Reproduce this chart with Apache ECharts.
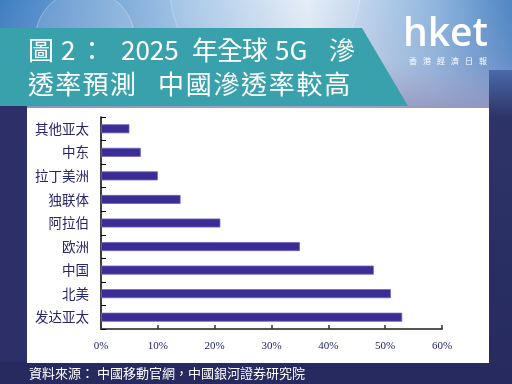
<!DOCTYPE html>
<html><head><meta charset="utf-8">
<script src="https://cdn.jsdelivr.net/npm/echarts@6/dist/echarts.min.js"></script>
<style>html,body{margin:0;padding:0;background:#262a5e}#c{width:512px;height:384px}</style>
</head><body><div id="c"></div>
<script>
var categories = ['其他亚太','中东','拉丁美洲','独联体','阿拉伯','欧洲','中国','北美','发达亚太'];
var penetration = [5, 7, 10, 14, 21, 35, 48, 51, 53];
var xTicks = [0, 10, 20, 30, 40, 50, 60];
var titleLine1 = ['圖', '2', '：', '2025', '年', '全', '球', '5G', '滲'];
var titleLine2 = ['透','率','預','測','中','國','滲','透','率','較','高'];
var logoSub = ['香','港','經','濟','日','報'];
var sourceText = '資料來源： 中國移動官網，中國銀河證券研究院';

var line1X = [28, 61, 79, 121, 192, 217, 242, 275, 329];
var line2X = [28, 55.3, 82.6, 110, 158, 185.7, 213.4, 241, 268.8, 296.5, 324.2];
var titleFont = '26px "Noto Sans CJK TC"';
var graphics = [
    {type:'rect', z:-10, shape:{x:0,y:0,width:512,height:110},
     style:{fill:new echarts.graphic.LinearGradient(0,0,1,0,[
       {offset:0,color:'#3f7fc2'},{offset:0.35,color:'#9fc3e6'},{offset:0.6,color:'#e4edf7'},{offset:0.85,color:'#8fb6de'},{offset:1,color:'#4f86c4'}])}},
    {type:'rect', z:-9, shape:{x:0,y:0,width:512,height:110},
     style:{fill:new echarts.graphic.LinearGradient(0,0,0,1,[
       {offset:0,color:'rgba(160,160,200,0)'},{offset:0.55,color:'rgba(170,170,205,0.2)'},{offset:1,color:'rgba(150,150,190,0.9)'}])}},
    {type:'circle', z:-8, shape:{cx:85,cy:40,r:50}, style:{fill:'rgba(255,255,255,0.12)', stroke:'rgba(255,255,255,0.3)', lineWidth:1}},
    {type:'circle', z:-8, shape:{cx:265,cy:-10,r:95}, style:{fill:'rgba(255,255,255,0.08)', stroke:'rgba(255,255,255,0.25)', lineWidth:1}},
    {type:'rect', z:-8, shape:{x:489,y:70,width:23,height:314},
     style:{fill:new echarts.graphic.LinearGradient(0,0,0,1,[{offset:0,color:'#4a6aa8'},{offset:0.15,color:'#2e3468'},{offset:1,color:'#262a5e'}])}},
    {type:'rect', z:-8, shape:{x:0,y:106,width:27,height:278}, style:{fill:'#2c2f68'}},
    {type:'rect', z:-8, shape:{x:0,y:362,width:512,height:22}, style:{fill:'#262a5e'}},
    {type:'rect', z:-7, shape:{x:27,y:108,width:462,height:255}, style:{fill:'#ffffff'}},
    {type:'polygon', z:-6, shape:{points:[[0,28],[362,28],[408,106],[0,106]]}, style:{fill:'#39a1ac'}},
    {type:'text', z:10, x:403, y:35, style:{text:'hket', fill:'#ffffff', font:'600 39px "Open Sans"', textVerticalAlign:'middle'}},
    {type:'text', z:10, x:29, y:373, style:{text:sourceText, fill:'#ffffff', font:'13px "Noto Sans CJK TC"', textVerticalAlign:'middle'}}
];
titleLine1.forEach(function(t,i){
  graphics.push({type:'text', z:10, x:line1X[i], y:50, style:{text:t, fill:'#ffffff', font:titleFont, textVerticalAlign:'middle'}});
});
titleLine2.forEach(function(t,i){
  graphics.push({type:'text', z:10, x:line2X[i], y:84, style:{text:t, fill:'#ffffff', font:titleFont, textVerticalAlign:'middle'}});
});
logoSub.forEach(function(t,i){
  graphics.push({type:'text', z:10, x:409 + i*14, y:61, style:{text:t, fill:'#ffffff', font:'8px "Noto Sans CJK TC"', textVerticalAlign:'middle'}});
});

var chart = echarts.init(document.getElementById('c'), null, {renderer:'canvas'});
chart.setOption({
  animation: false,
  backgroundColor: '#262a5e',
  graphic: graphics,
  grid: {left:101, top:117, width:341, height:212, containLabel:false},
  xAxis: {
    type:'value', min:0, max:60, interval:10,
    axisLine:{show:true, lineStyle:{color:'#555555', width:2}},
    axisTick:{show:true, inside:true, length:4, lineStyle:{color:'#333333', width:1.5}},
    splitLine:{show:false},
    axisLabel:{margin:12, color:'#1e1e6a', fontSize:11, fontFamily:'"Liberation Serif"', formatter:function(v){return v+'%';}}
  },
  yAxis: {
    type:'category', data:categories, inverse:true,
    axisLine:{show:true, lineStyle:{color:'#000000', width:1.5}},
    axisTick:{show:true, inside:true, length:5, lineStyle:{color:'#000000'}},
    axisLabel:{margin:12, color:'#26266a', fontSize:13.5, fontFamily:'"Noto Sans CJK SC"'}
  },
  series: [{
    type:'bar', data:penetration, barWidth:9,
    itemStyle:{color:'#3a2d96', borderColor:'#6e64bc', borderWidth:0.8}
  }]
});
</script></body></html>
